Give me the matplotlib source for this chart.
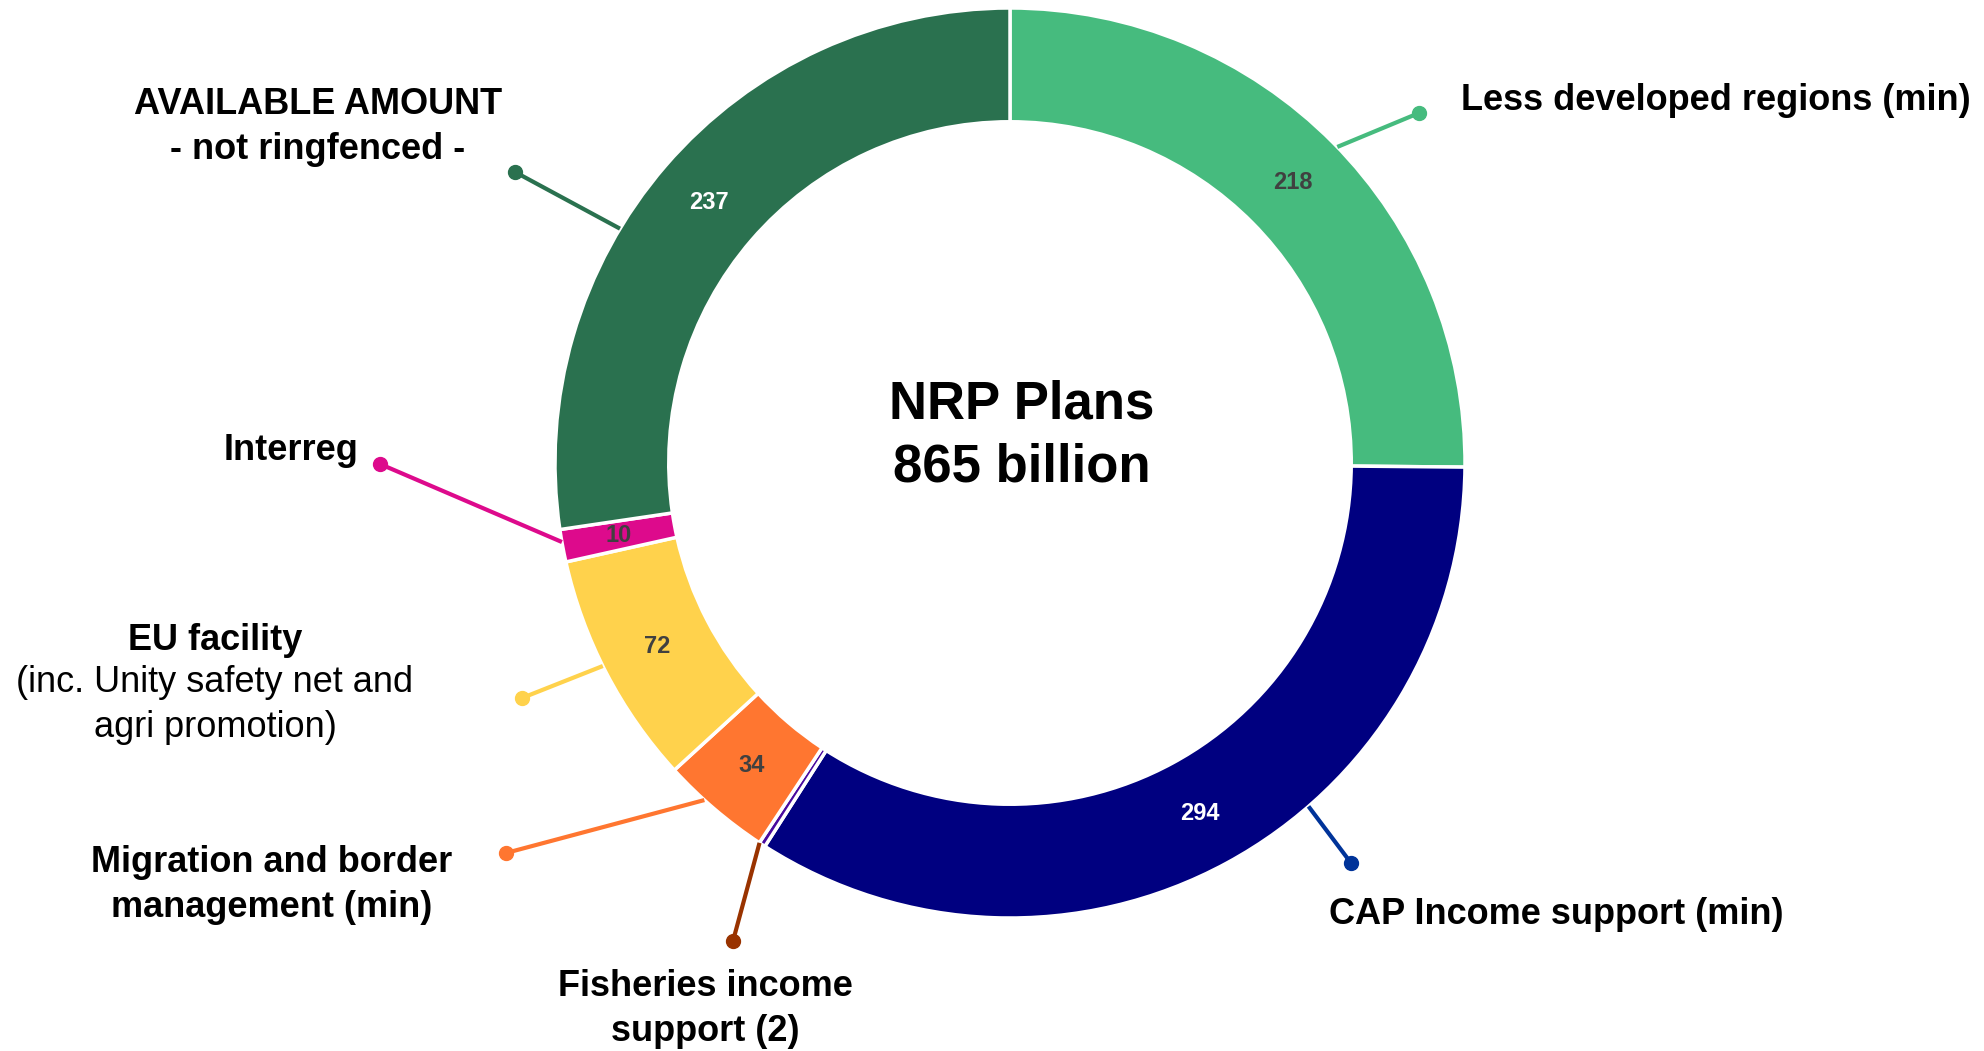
import numpy as np
import matplotlib
matplotlib.use("Agg")
import matplotlib.pyplot as plt

plt.rcParams['font.family'] = ['Liberation Sans', 'DejaVu Sans']

# data (billion), clockwise from 12 o'clock
names = ["Less developed regions (min)", "CAP Income support (min)",
         "Fisheries income support (2)", "Migration and border management (min)",
         "EU facility", "Interreg", "AVAILABLE AMOUNT"]
values = [218, 294, 2, 34, 72, 10, 237]
shown = ["218", "294", "", "34", "72", "10", "237"]
center_title = "NRP Plans\n865 billion"

colors = ["#46bb7e", "#000080", "#4a0a9e", "#ff7630", "#ffd24c", "#dd0a8c", "#2a714f"]
line_colors = ["#46bb7e", "#003399", "#993300", "#ff7630", "#ffd24c", "#dd0a8c", "#2a714f"]
value_colors = ["#404040", "white", "white", "#404040", "#404040", "#404040", "white"]

W, H = 1984, 1051
cx, cy, R = 1010, H - 463, 455

fig = plt.figure(figsize=(W / 100, H / 100), dpi=100)
ax = fig.add_axes([0, 0, 1, 1])

wedges, _ = ax.pie(values, colors=colors, startangle=90, counterclock=False,
                   radius=R, center=(cx, cy),
                   wedgeprops=dict(width=R * 0.25, edgecolor="white", linewidth=2.5))
# pie resets the limits, so set them afterwards
ax.set_xlim(0, W)
ax.set_ylim(0, H)
ax.set_aspect("equal")
ax.axis("off")

# value labels in the middle of the ring
for w, txt, c in zip(wedges, shown, value_colors):
    if not txt:
        continue
    a = np.deg2rad((w.theta1 + w.theta2) / 2)
    r = R * 0.875
    ax.text(cx + r * np.cos(a), cy + r * np.sin(a), txt, ha="center", va="center",
            fontsize=17, fontweight="bold", color=c)

# leader lines: angle where they leave the ring and dot position (image px)
link_angle = [44, -49, 236.6, 227.8, 206.5, 190, 149]
dots = [(1419, 113), (1351, 863), (733, 941), (506, 853), (522, 698), (380, 464), (515, 172)]
for ang, (dx, dy), c in zip(link_angle, dots, line_colors):
    a = np.deg2rad(ang)
    x0, y0 = cx + R * np.cos(a), cy + R * np.sin(a)
    ax.plot([x0, dx], [y0, H - dy], color=c, lw=3, solid_capstyle="butt", zorder=3)
    ax.plot(dx, H - dy, "o", color=c, ms=10, zorder=4)

fs = 26
ls = 1.38
ax.text(1461, H - 101, names[0], ha="left", va="center", fontsize=fs, fontweight="bold")
ax.text(1556, H - 914, names[1], ha="center", va="center", fontsize=fs, fontweight="bold")
ax.text(705, H - 1009, "Fisheries income\nsupport (2)", ha="center", va="center",
        fontsize=fs, fontweight="bold", linespacing=ls)
ax.text(272, H - 885, "Migration and border\nmanagement (min)", ha="center", va="center",
        fontsize=fs, fontweight="bold", linespacing=ls)
ax.text(215, H - 641, names[4], ha="center", va="center", fontsize=fs, fontweight="bold")
ax.text(215, H - 705, "(inc. Unity safety net and\nagri promotion)", ha="center", va="center",
        fontsize=fs, linespacing=ls)
ax.text(358, H - 451, names[5], ha="right", va="center", fontsize=fs, fontweight="bold")
ax.text(318, H - 127, "AVAILABLE AMOUNT\n- not ringfenced -", ha="center", va="center",
        fontsize=fs, fontweight="bold", linespacing=ls)

ax.text(cx + 12, cy + 27, center_title, ha="center", va="center",
        fontsize=38, fontweight="bold", linespacing=1.32)

fig.savefig("out.png", dpi=100)
